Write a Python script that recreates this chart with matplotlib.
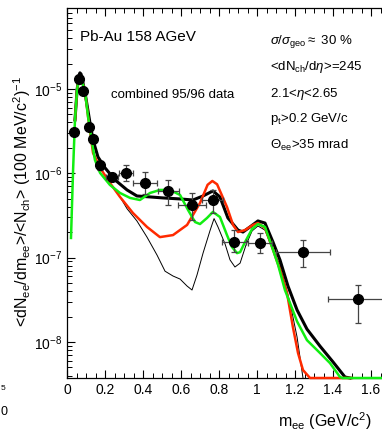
import numpy as np
import matplotlib
matplotlib.use('Agg')
import matplotlib.pyplot as plt
from matplotlib.ticker import MultipleLocator, LogLocator

plt.rcParams['font.family'] = ['Liberation Sans', 'DejaVu Sans']
plt.rcParams['mathtext.fontset'] = 'custom'
plt.rcParams['mathtext.rm'] = 'Liberation Sans'
plt.rcParams['mathtext.it'] = 'Liberation Sans:italic'

YMIN, YMAX = 3.74e-9, 9.1e-5

# data points (CERES Pb-Au, combined 95/96)
m_data = [0.037, 0.063, 0.084, 0.116, 0.137, 0.174, 0.237, 0.311, 0.411, 0.532,
          0.658, 0.768, 0.879, 1.016, 1.242, 1.532]
y_data = [3.09e-6, 1.31e-5, 9.47e-6, 3.54e-6, 2.55e-6, 1.25e-6, 9.04e-7, 1.01e-6,
          7.68e-7, 6.17e-7, 4.2e-7, 4.82e-7, 1.53e-7, 1.49e-7, 1.16e-7, 3.23e-8]
y_lo = [2.95e-6, 1.25e-5, 9.0e-6, 3.35e-6, 2.4e-6, 1.1e-6, 8.1e-7, 8.1e-7,
        5.7e-7, 4.2e-7, 2.8e-7, 3.38e-7, 1.16e-7, 1.13e-7, 7.74e-8, 1.67e-8]
y_hi = [3.25e-6, 1.37e-5, 9.9e-6, 3.7e-6, 2.7e-6, 1.4e-6, 1.0e-6, 1.25e-6,
        1.04e-6, 8.33e-7, 5.84e-7, 6.34e-7, 2.12e-7, 1.96e-7, 1.6e-7, 4.73e-8]
x_err = [0, 0, 0, 0, 0, 0, 0.03, 0.035, 0.065, 0.055, 0.075, 0.055, 0.065, 0.065, 0.14, 0.16]

# total (thick black)
m_sum = [0.042, 0.053, 0.063, 0.068, 0.074, 0.095, 0.121, 0.137, 0.163, 0.2, 0.253,
         0.316, 0.368, 0.437, 0.505, 0.595, 0.663, 0.716, 0.768, 0.805, 0.847, 0.9,
         0.926, 0.963, 1.005, 1.042, 1.084, 1.121, 1.163, 1.211, 1.263, 1.332, 1.4,
         1.463, 1.49]
y_sum = [4.29e-6, 9.7e-6, 1.45e-5, 1.55e-5, 1.5e-5, 8.97e-6, 3.95e-6, 2.48e-6, 1.56e-6,
         1.16e-6, 8.33e-7, 6.34e-7, 5.38e-7, 5.24e-7, 5.1e-7, 4.96e-7, 4.82e-7, 5.38e-7,
         6.17e-7, 5.24e-7, 2.95e-7, 2.12e-7, 2.01e-7, 2.31e-7, 2.72e-7, 2.57e-7, 1.53e-7,
         9.37e-8, 4.6e-8, 2.39e-8, 1.42e-8, 8.9e-9, 5.8e-9, 3.84e-9, 3.74e-9]

# green
m_grn = [0.021, 0.032, 0.042, 0.053, 0.063, 0.074, 0.095, 0.111, 0.132, 0.147, 0.174,
         0.226, 0.279, 0.332, 0.384, 0.437, 0.489, 0.542, 0.595, 0.637, 0.674, 0.7,
         0.737, 0.768, 0.805, 0.842, 0.868, 0.895, 0.911, 0.937, 0.974, 1.005, 1.042,
         1.079, 1.111, 1.147, 1.211, 1.263, 1.332, 1.384, 1.437, 1.45, 1.7]
y_grn = [1.71e-7, 1.09e-6, 4.29e-6, 9.7e-6, 1.43e-5, 1.35e-5, 9.2e-6, 4.66e-6, 2.29e-6,
         1.44e-6, 1.01e-6, 7.27e-7, 5.84e-7, 5.1e-7, 4.82e-7, 5.84e-7, 6.34e-7, 6.34e-7,
         5.53e-7, 3.67e-7, 2.64e-7, 2.5e-7, 2.95e-7, 3.48e-7, 3.03e-7, 1.85e-7, 1.34e-7,
         1.13e-7, 1.16e-7, 1.53e-7, 2.18e-7, 2.5e-7, 2.31e-7, 1.34e-7, 8.2e-8, 4.13e-8,
         1.75e-8, 1.05e-8, 7.38e-9, 5.62e-9, 3.84e-9, 3.74e-9, 3.74e-9]

# red
m_red = [0.042, 0.053, 0.063, 0.074, 0.095, 0.111, 0.137, 0.174, 0.226, 0.279, 0.347,
         0.421, 0.489, 0.558, 0.632, 0.7, 0.74, 0.765, 0.79, 0.842, 0.874, 0.9, 0.937,
         0.979, 1.005, 1.042, 1.079, 1.121, 1.158, 1.189, 1.216, 1.242, 1.279, 1.5]
y_red = [4.29e-6, 9.7e-6, 1.43e-5, 1.35e-5, 9.2e-6, 4.66e-6, 1.74e-6, 1.16e-6, 7.68e-7,
         5.24e-7, 3.38e-7, 2.31e-7, 1.75e-7, 1.85e-7, 2.44e-7, 4.44e-7, 7.3e-7, 8.1e-7,
         7.4e-7, 3.98e-7, 2.44e-7, 2.01e-7, 2.12e-7, 2.44e-7, 2.57e-7, 2.24e-7, 1.34e-7,
         7.2e-8, 3.8e-8, 1.5e-8, 7.38e-9, 4.65e-9, 3.74e-9, 3.74e-9]

# cocktail (thin black)
m_ckt = [0.137, 0.174, 0.226, 0.279, 0.316, 0.368, 0.421, 0.474, 0.516, 0.558, 0.595,
         0.632, 0.658, 0.684, 0.716, 0.753, 0.774, 0.795, 0.832, 0.858, 0.884, 0.911,
         0.942, 0.974, 1.005, 1.042, 1.079, 1.121, 1.174, 1.211, 1.242]
y_ckt = [1.74e-6, 1.16e-6, 7.68e-7, 5.24e-7, 3.8e-7, 2.72e-7, 1.75e-7, 1.07e-7, 6.9e-8,
         6.05e-8, 5.57e-8, 4.6e-8, 4.13e-8, 6.2e-8, 1.13e-7, 2.1e-7, 2.9e-7, 2.3e-7,
         1.45e-7, 9.4e-8, 7.74e-8, 8.6e-8, 1.41e-7, 2.07e-7, 2.37e-7, 2.12e-7, 1.3e-7,
         8.2e-8, 2.9e-8, 1.14e-8, 3.74e-9]

fig = plt.figure(figsize=(3.82, 4.32), dpi=100)
ax = fig.add_axes([67/382, 54/432, 323/382, 370/432])

ax.plot(m_ckt, y_ckt, color='black', lw=0.7, zorder=2)
ax.plot(m_sum, y_sum, color='black', lw=2.2, zorder=3, clip_on=False)
ax.plot(m_red, y_red, color='#ff2a00', lw=1.8, zorder=4, clip_on=False)
ax.plot(m_grn, y_grn, color='#11ee11', lw=1.8, zorder=5, clip_on=False)

yerr = [np.array(y_data) - np.array(y_lo), np.array(y_hi) - np.array(y_data)]
ax.errorbar(m_data, y_data, xerr=x_err, yerr=yerr, fmt='o', color='black',
            ecolor='#444444', elinewidth=0.9, capsize=2, capthick=0.9,
            markersize=7, zorder=6)

ax.set_yscale('log')
ax.set_xlim(0, 1.7)
ax.set_ylim(YMIN, YMAX)
ax.xaxis.set_major_locator(MultipleLocator(0.2))
ax.xaxis.set_minor_locator(MultipleLocator(0.05))
ax.yaxis.set_major_locator(LogLocator(base=10, numticks=10))
ax.yaxis.set_minor_locator(LogLocator(base=10, subs=np.arange(2, 10), numticks=20))
ax.set_xticks([0, 0.2, 0.4, 0.6, 0.8, 1.0, 1.2, 1.4, 1.6])
ax.set_xticklabels(['0', '0.2', '0.4', '0.6', '0.8', '1', '1.2', '1.4', '1.6'])
ax.tick_params(which='both', direction='in', top=True, right=True, labelsize=10)
ax.tick_params(which='major', length=6, width=0.8)
ax.tick_params(which='minor', length=3.5, width=0.7)
for s in ax.spines.values():
    s.set_linewidth(0.9)

fig.text(80/382, 1-37/432, 'Pb-Au 158 AGeV', fontsize=11, va='center', ha='left')
fig.text(111/382, 1-95/432, 'combined 95/96 data', fontsize=9.5, va='center', ha='left')
rx = 270/382
fig.text(rx, 1-42/432, r'$\sigma/\sigma_{\rm geo}$$\approx$ 30 %', fontsize=9.5, va='center')
fig.text(rx, 1-67/432, r'<dN$_{\rm ch}$/d$\eta$>=245', fontsize=9.5, va='center')
fig.text(rx, 1-94/432, r'2.1<$\eta$<2.65', fontsize=9.5, va='center')
fig.text(rx, 1-119/432, r'p$_{\rm t}$>0.2 GeV/c', fontsize=9.5, va='center')
fig.text(rx, 1-145/432, r'$\Theta_{\rm ee}$>35 mrad', fontsize=9.5, va='center')

fig.text(22/382, 1-202/432,
         r'<dN$_{\rm ee}$/dm$_{\rm ee}$>/<N$_{\rm ch}$> (100 MeV/c$^{2}$)$^{-1}$',
         fontsize=11.5, rotation=90, ha='center', va='center')
fig.text(372/382, 1-421/432, r'm$_{\rm ee}$ (GeV/c$^{2}$)', fontsize=11.5,
         ha='right', va='center')

# leftover pieces of the neighbouring panel
fig.text(0.5/382, 1-388/432, '5', fontsize=6, ha='left', va='center')
fig.text(0.5/382, 1-412/432, '0', fontsize=9, ha='left', va='center')

fig.savefig('out.png', dpi=100)
